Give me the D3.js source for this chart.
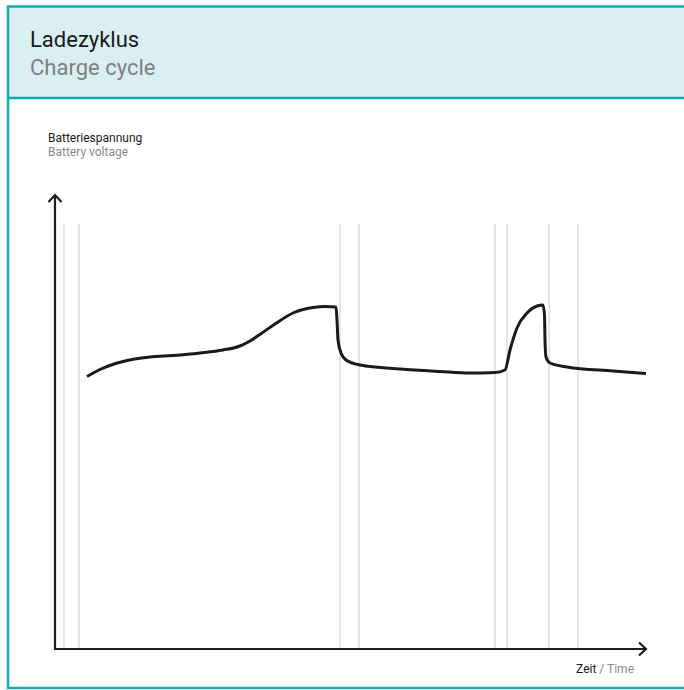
<!DOCTYPE html>
<html><head><meta charset="utf-8">
<script src="https://cdn.jsdelivr.net/npm/d3@7"></script>
<style>body{margin:0;background:#fff}svg{display:block;font-family:Roboto, "DejaVu Sans", sans-serif}</style>
</head><body>
<svg id="c" width="684" height="690"></svg>
<script>
// Data (unitless time / voltage)
const titleDe = "Ladezyklus", titleEn = "Charge cycle";
const yLabelDe = "Batteriespannung", yLabelEn = "Battery voltage";
const xLabelDe = "Zeit", xLabelEn = " / Time";
const time    = [32,45,68,95,118,145,168,185,195,207,220,238,258,270,281,282,283,286,291,305,345,385,415,440,450,455,462,472,482,488,489.5,490,491,495,512,558,591];
const voltage = [272.5,279.5,287.5,292,293.5,296,299,303,308,316,325,336,341.5,342.5,342,329,309,296,289,284,280,277.5,276,276.5,279,299,321,336,343,344,334,309,292,286,282,278,275.5];
const phaseLines = [9,24,285,304,440,452,494,523];
const gridTop = 425;

const svg = d3.select("#c");
const teal = "#12aab3";
// frame
svg.append("rect").attr("x",8).attr("y",6.5).attr("width",720).attr("height",92).attr("fill","#daeff2");
svg.append("rect").attr("x",8).attr("y",6.5).attr("width",720).attr("height",681.5).attr("fill","none").attr("stroke",teal).attr("stroke-width",2.5);
svg.append("line").attr("x1",8).attr("x2",728).attr("y1",98).attr("y2",98).attr("stroke",teal).attr("stroke-width",2.5);

svg.append("text").attr("x",30).attr("y",47).attr("font-size",22).attr("fill","#1a1a1a").text(titleDe);
svg.append("text").attr("x",30).attr("y",75).attr("font-size",22).attr("fill","#808080").text(titleEn);

const x = d3.scaleLinear().domain([0,591]).range([55,646]);
const y = d3.scaleLinear().domain([0,454]).range([649,195]);

svg.append("text").attr("x",48).attr("y",142).attr("font-size",12).attr("fill","#1a1a1a").text(yLabelDe);
svg.append("text").attr("x",48).attr("y",156).attr("font-size",12).attr("fill","#8a8a8a").text(yLabelEn);

// phase gridlines
svg.append("g").selectAll("line").data(phaseLines).join("line")
  .attr("x1",d=>x(d)).attr("x2",d=>x(d)).attr("y1",y(gridTop)).attr("y2",y(0))
  .attr("stroke","#e6e6e6").attr("stroke-width",2);

// axes
const ax = svg.append("g").attr("stroke","#1e1e1e").attr("stroke-width",2.2).attr("fill","none");
ax.append("path").attr("d",`M${x(0)},${y(454)}L${x(0)},${y(0)}L${x(591)},${y(0)}`);
ax.append("path").attr("d",`M${x(0)-6.5},${y(454)+7}L${x(0)},${y(454)}L${x(0)+6.5},${y(454)+7}`);
ax.append("path").attr("d",`M${x(591)-7},${y(0)-6.5}L${x(591)},${y(0)}L${x(591)-7},${y(0)+6.5}`);

const xt = svg.append("text").attr("x",634).attr("y",673).attr("font-size",12).attr("text-anchor","end");
xt.append("tspan").attr("fill","#1a1a1a").text(xLabelDe);
xt.append("tspan").attr("fill","#8a8a8a").text(xLabelEn);

// curve
const pts = time.map((t,i)=>[t,voltage[i]]);
svg.append("path").datum(pts)
  .attr("d", d3.line().x(d=>x(d[0])).y(d=>y(d[1])).curve(d3.curveMonotoneX))
  .attr("fill","none").attr("stroke","#1a1a1a").attr("stroke-width",3).attr("stroke-linejoin","round");
</script>
</body></html>
